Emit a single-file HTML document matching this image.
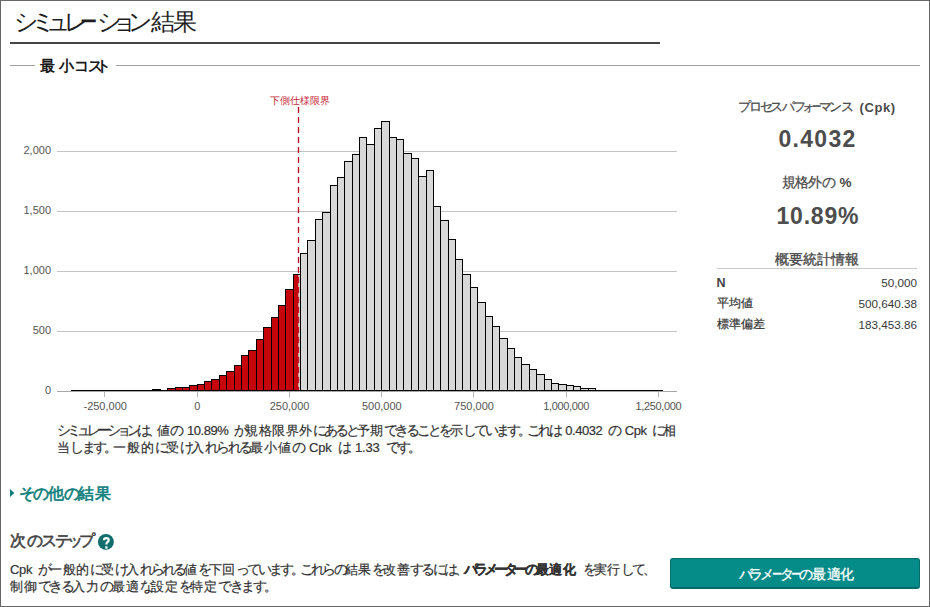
<!DOCTYPE html>
<html lang="ja">
<head>
<meta charset="utf-8">
<style>
html,body{margin:0;padding:0;}
body{width:930px;height:607px;position:relative;overflow:hidden;background:#fff;font-family:"Liberation Sans",sans-serif;color:#444;}
.frame{position:absolute;left:0;top:0;width:928px;height:605px;border:1px solid #666;}
.a{position:absolute;white-space:nowrap;line-height:1;}
.hr{position:absolute;}
</style>
</head>
<body>
<div class="frame"></div>
<!-- title -->
<div class="a" id="title" style="left:0;top:10px;font-size:24px;color:#1e1e1e;"><span style="position:absolute;left:14.48px">シ</span><span style="position:absolute;left:30.54px">ミ</span><span style="position:absolute;left:46.44px">ュ</span><span style="position:absolute;left:63.52px">レ</span><span style="position:absolute;left:80.44px;transform:scaleX(0.72);transform-origin:0 0">ー</span><span style="position:absolute;left:97.38px">シ</span><span style="position:absolute;left:112.36px">ョ</span><span style="position:absolute;left:127.50px">ン</span><span style="position:absolute;left:150.72px">結</span><span style="position:absolute;left:173.22px">果</span></div>
<div class="hr" style="left:10px;top:42px;width:650px;height:2px;background:#454545;"></div>
<!-- section -->
<div class="hr" style="left:10px;top:65px;width:25px;height:1px;background:#a0a0a0;"></div>
<div class="hr" style="left:116px;top:65px;width:804px;height:1px;background:#a0a0a0;"></div>
<div class="a" id="sect" style="left:0;top:57.5px;font-size:15px;font-weight:bold;color:#1a1a1a;"><span style="position:absolute;left:40.20px">最</span><span style="position:absolute;left:58.55px">小</span><span style="position:absolute;left:73.95px">コ</span><span style="position:absolute;left:88.38px">ス</span><span style="position:absolute;left:96.45px">ト</span></div>
<!-- chart -->
<svg width="930" height="607" style="position:absolute;left:0;top:0"><line x1="57" y1="151.5" x2="677" y2="151.5" stroke="#c4c4c4" stroke-width="1"/><line x1="57" y1="211.5" x2="677" y2="211.5" stroke="#c4c4c4" stroke-width="1"/><line x1="57" y1="271.5" x2="677" y2="271.5" stroke="#c4c4c4" stroke-width="1"/><line x1="57" y1="331.5" x2="677" y2="331.5" stroke="#c4c4c4" stroke-width="1"/><line x1="57" y1="391.5" x2="677" y2="391.5" stroke="#a8a8a8" stroke-width="1"/><line x1="104.5" y1="392" x2="104.5" y2="397" stroke="#b8b8b8" stroke-width="1"/><line x1="197.5" y1="392" x2="197.5" y2="397" stroke="#b8b8b8" stroke-width="1"/><line x1="289.5" y1="392" x2="289.5" y2="397" stroke="#b8b8b8" stroke-width="1"/><line x1="381.5" y1="392" x2="381.5" y2="397" stroke="#b8b8b8" stroke-width="1"/><line x1="473.5" y1="392" x2="473.5" y2="397" stroke="#b8b8b8" stroke-width="1"/><line x1="566.5" y1="392" x2="566.5" y2="397" stroke="#b8b8b8" stroke-width="1"/><line x1="658.5" y1="392" x2="658.5" y2="397" stroke="#b8b8b8" stroke-width="1"/><line x1="71" y1="390.5" x2="663" y2="390.5" stroke="#000" stroke-width="1"/><rect x="152.5" y="389.5" width="8" height="1" fill="#c5040c" stroke="#000" stroke-width="1"/><rect x="167.5" y="388.5" width="8" height="2" fill="#c5040c" stroke="#000" stroke-width="1"/><rect x="175.5" y="387.5" width="7" height="3" fill="#c5040c" stroke="#000" stroke-width="1"/><rect x="182.5" y="387.5" width="7" height="3" fill="#c5040c" stroke="#000" stroke-width="1"/><rect x="189.5" y="385.5" width="8" height="5" fill="#c5040c" stroke="#000" stroke-width="1"/><rect x="197.5" y="384.5" width="7" height="6" fill="#c5040c" stroke="#000" stroke-width="1"/><rect x="204.5" y="381.5" width="7" height="9" fill="#c5040c" stroke="#000" stroke-width="1"/><rect x="211.5" y="379.5" width="8" height="11" fill="#c5040c" stroke="#000" stroke-width="1"/><rect x="219.5" y="375.5" width="7" height="15" fill="#c5040c" stroke="#000" stroke-width="1"/><rect x="226.5" y="371.5" width="8" height="19" fill="#c5040c" stroke="#000" stroke-width="1"/><rect x="234.5" y="365.5" width="7" height="25" fill="#c5040c" stroke="#000" stroke-width="1"/><rect x="241.5" y="355.5" width="7" height="35" fill="#c5040c" stroke="#000" stroke-width="1"/><rect x="248.5" y="350.5" width="8" height="40" fill="#c5040c" stroke="#000" stroke-width="1"/><rect x="256.5" y="339.5" width="7" height="51" fill="#c5040c" stroke="#000" stroke-width="1"/><rect x="263.5" y="327.5" width="8" height="63" fill="#c5040c" stroke="#000" stroke-width="1"/><rect x="271.5" y="317.5" width="7" height="73" fill="#c5040c" stroke="#000" stroke-width="1"/><rect x="278.5" y="305.5" width="7" height="85" fill="#c5040c" stroke="#000" stroke-width="1"/><rect x="285.5" y="289.5" width="8" height="101" fill="#c5040c" stroke="#000" stroke-width="1"/><rect x="293.5" y="274.5" width="7" height="116" fill="#d8d8d8"/><rect x="293.5" y="274.5" width="4.80" height="116" fill="#c5040c"/><rect x="293.5" y="274.5" width="7" height="116" fill="none" stroke="#000" stroke-width="1"/><rect x="300.5" y="253.5" width="7" height="137" fill="#d8d8d8" stroke="#000" stroke-width="1"/><rect x="307.5" y="240.5" width="8" height="150" fill="#d8d8d8" stroke="#000" stroke-width="1"/><rect x="315.5" y="219.5" width="7" height="171" fill="#d8d8d8" stroke="#000" stroke-width="1"/><rect x="322.5" y="212.5" width="8" height="178" fill="#d8d8d8" stroke="#000" stroke-width="1"/><rect x="330.5" y="185.5" width="7" height="205" fill="#d8d8d8" stroke="#000" stroke-width="1"/><rect x="337.5" y="177.5" width="7" height="213" fill="#d8d8d8" stroke="#000" stroke-width="1"/><rect x="344.5" y="161.5" width="8" height="229" fill="#d8d8d8" stroke="#000" stroke-width="1"/><rect x="352.5" y="154.5" width="7" height="236" fill="#d8d8d8" stroke="#000" stroke-width="1"/><rect x="359.5" y="137.5" width="7" height="253" fill="#d8d8d8" stroke="#000" stroke-width="1"/><rect x="366.5" y="144.5" width="8" height="246" fill="#d8d8d8" stroke="#000" stroke-width="1"/><rect x="374.5" y="128.5" width="7" height="262" fill="#d8d8d8" stroke="#000" stroke-width="1"/><rect x="381.5" y="121.5" width="8" height="269" fill="#d8d8d8" stroke="#000" stroke-width="1"/><rect x="389.5" y="137.5" width="7" height="253" fill="#d8d8d8" stroke="#000" stroke-width="1"/><rect x="396.5" y="139.5" width="7" height="251" fill="#d8d8d8" stroke="#000" stroke-width="1"/><rect x="403.5" y="153.5" width="8" height="237" fill="#d8d8d8" stroke="#000" stroke-width="1"/><rect x="411.5" y="158.5" width="7" height="232" fill="#d8d8d8" stroke="#000" stroke-width="1"/><rect x="418.5" y="176.5" width="8" height="214" fill="#d8d8d8" stroke="#000" stroke-width="1"/><rect x="426.5" y="170.5" width="7" height="220" fill="#d8d8d8" stroke="#000" stroke-width="1"/><rect x="433.5" y="206.5" width="7" height="184" fill="#d8d8d8" stroke="#000" stroke-width="1"/><rect x="440.5" y="220.5" width="8" height="170" fill="#d8d8d8" stroke="#000" stroke-width="1"/><rect x="448.5" y="239.5" width="7" height="151" fill="#d8d8d8" stroke="#000" stroke-width="1"/><rect x="455.5" y="259.5" width="7" height="131" fill="#d8d8d8" stroke="#000" stroke-width="1"/><rect x="462.5" y="274.5" width="8" height="116" fill="#d8d8d8" stroke="#000" stroke-width="1"/><rect x="470.5" y="287.5" width="7" height="103" fill="#d8d8d8" stroke="#000" stroke-width="1"/><rect x="477.5" y="302.5" width="8" height="88" fill="#d8d8d8" stroke="#000" stroke-width="1"/><rect x="485.5" y="316.5" width="7" height="74" fill="#d8d8d8" stroke="#000" stroke-width="1"/><rect x="492.5" y="326.5" width="7" height="64" fill="#d8d8d8" stroke="#000" stroke-width="1"/><rect x="499.5" y="338.5" width="8" height="52" fill="#d8d8d8" stroke="#000" stroke-width="1"/><rect x="507.5" y="348.5" width="7" height="42" fill="#d8d8d8" stroke="#000" stroke-width="1"/><rect x="514.5" y="357.5" width="7" height="33" fill="#d8d8d8" stroke="#000" stroke-width="1"/><rect x="521.5" y="364.5" width="8" height="26" fill="#d8d8d8" stroke="#000" stroke-width="1"/><rect x="529.5" y="369.5" width="7" height="21" fill="#d8d8d8" stroke="#000" stroke-width="1"/><rect x="536.5" y="374.5" width="8" height="16" fill="#d8d8d8" stroke="#000" stroke-width="1"/><rect x="544.5" y="379.5" width="7" height="11" fill="#d8d8d8" stroke="#000" stroke-width="1"/><rect x="551.5" y="383.5" width="7" height="7" fill="#d8d8d8" stroke="#000" stroke-width="1"/><rect x="558.5" y="384.5" width="8" height="6" fill="#d8d8d8" stroke="#000" stroke-width="1"/><rect x="566.5" y="385.5" width="7" height="5" fill="#d8d8d8" stroke="#000" stroke-width="1"/><rect x="573.5" y="386.5" width="7" height="4" fill="#d8d8d8" stroke="#000" stroke-width="1"/><rect x="580.5" y="388.5" width="8" height="2" fill="#d8d8d8" stroke="#000" stroke-width="1"/><rect x="588.5" y="388.5" width="7" height="2" fill="#d8d8d8" stroke="#000" stroke-width="1"/><line x1="298.5" y1="107" x2="298.5" y2="390" stroke="#c0001a" stroke-width="1.3" stroke-dasharray="6 4"/></svg>
<div class="a" id="lsl" style="left:270px;top:96px;font-size:10px;color:#c8283a;">下側仕様限界</div>
<!-- y labels -->
<div class="a ylab" style="right:879px;top:145px;font-size:11px;color:#555;">2,000</div>
<div class="a ylab" style="right:879px;top:205px;font-size:11px;color:#555;">1,500</div>
<div class="a ylab" style="right:879px;top:265px;font-size:11px;color:#555;">1,000</div>
<div class="a ylab" style="right:879px;top:325px;font-size:11px;color:#555;">500</div>
<div class="a ylab" style="right:879px;top:385px;font-size:11px;color:#555;">0</div>
<!-- x labels -->
<div class="a xlab" style="left:105.2px;top:401px;font-size:11px;color:#555;transform:translateX(-50%);">-250,000</div>
<div class="a xlab" style="left:197.4px;top:401px;font-size:11px;color:#555;transform:translateX(-50%);">0</div>
<div class="a xlab" style="left:289.6px;top:401px;font-size:11px;color:#555;transform:translateX(-50%);">250,000</div>
<div class="a xlab" style="left:381.8px;top:401px;font-size:11px;color:#555;transform:translateX(-50%);">500,000</div>
<div class="a xlab" style="left:474px;top:401px;font-size:11px;color:#555;transform:translateX(-50%);">750,000</div>
<div class="a xlab" style="left:566.2px;top:401px;font-size:11px;color:#555;transform:translateX(-50%);letter-spacing:-0.35px;">1,000,000</div>
<div class="a xlab" style="left:658.4px;top:401px;font-size:11px;color:#555;transform:translateX(-50%);letter-spacing:-0.35px;">1,250,000</div>
<!-- description -->
<div class="a" id="d1" style="left:56.5px;top:423px;font-size:13px;color:#333;word-spacing:2.5px;-webkit-text-stroke:0.2px #333;"><span style="font-size:14.0px;letter-spacing:-3.94px">シミュレーション</span><span style="font-size:14.0px;letter-spacing:-3.04px">は</span><span style="letter-spacing:-4.24px">、</span><span style="letter-spacing:0.56px">値</span><span style="font-size:14.0px;letter-spacing:-3.04px">の</span><span style="letter-spacing:-0.44px"> 10.89% </span><span style="font-size:14.0px;letter-spacing:-3.04px">が</span><span style="letter-spacing:0.56px">規格限界外</span><span style="font-size:14.0px;letter-spacing:-3.04px">にあると</span><span style="letter-spacing:0.56px">予期</span><span style="font-size:14.0px;letter-spacing:-3.04px">できることを</span><span style="letter-spacing:0.56px">示</span><span style="font-size:14.0px;letter-spacing:-3.04px">しています</span><span style="letter-spacing:-4.24px">。</span><span style="font-size:14.0px;letter-spacing:-3.04px">これは</span><span style="letter-spacing:-0.44px"> 0.4032 </span><span style="font-size:14.0px;letter-spacing:-3.04px">の</span><span style="letter-spacing:-0.44px"> Cpk </span><span style="font-size:14.0px;letter-spacing:-3.04px">に</span><span style="letter-spacing:0.56px">相</span></div>
<div class="a" id="d2" style="left:56.5px;top:440px;font-size:13px;color:#333;word-spacing:2.5px;-webkit-text-stroke:0.2px #333;"><span style="letter-spacing:0.86px">当</span><span style="font-size:14.0px;letter-spacing:-2.74px">します</span><span style="letter-spacing:-3.94px">。</span><span style="letter-spacing:0.86px">一般的</span><span style="font-size:14.0px;letter-spacing:-2.74px">に</span><span style="letter-spacing:0.86px">受</span><span style="font-size:14.0px;letter-spacing:-2.74px">け</span><span style="letter-spacing:0.86px">入</span><span style="font-size:14.0px;letter-spacing:-2.74px">れられる</span><span style="letter-spacing:0.86px">最小値</span><span style="font-size:14.0px;letter-spacing:-2.74px">の</span><span style="letter-spacing:-0.14px"> Cpk </span><span style="font-size:14.0px;letter-spacing:-2.74px">は</span><span style="letter-spacing:-0.14px"> 1.33 </span><span style="font-size:14.0px;letter-spacing:-2.74px">です</span><span style="letter-spacing:-3.94px">。</span></div>
<!-- right panel -->
<div class="a" id="r1a" style="left:0;top:100px;font-size:13px;color:#4a4a4a;-webkit-text-stroke:0.25px #4a4a4a;"><span style="position:absolute;left:738.43px">プ</span><span style="position:absolute;left:749.43px">ロ</span><span style="position:absolute;left:760.22px">セ</span><span style="position:absolute;left:770.12px">ス</span><span style="position:absolute;left:781.60px">パ</span><span style="position:absolute;left:793.03px">フ</span><span style="position:absolute;left:802.42px">ォ</span><span style="position:absolute;left:811.66px;transform:scaleX(0.72);transform-origin:0 0">ー</span><span style="position:absolute;left:819.23px">マ</span><span style="position:absolute;left:829.17px">ン</span><span style="position:absolute;left:841.42px">ス</span></div>
<div class="a" id="r1b" style="left:859.5px;top:101px;font-size:13px;font-weight:bold;color:#4a4a4a;letter-spacing:0.6px;">(Cpk)</div>
<div class="a" id="r2" style="left:778.5px;top:128px;font-size:23px;font-weight:bold;color:#4d4d4d;letter-spacing:1.3px;">0.4032</div>
<div class="a" id="r3a" style="left:782px;top:175.5px;font-size:13.5px;color:#4a4a4a;-webkit-text-stroke:0.25px #4a4a4a;letter-spacing:-0.8px;">規格外の</div>
<div class="a" id="r3b" style="left:839.5px;top:176px;font-size:13.5px;font-weight:bold;color:#4a4a4a;">%</div>
<div class="a" id="r4" style="left:776.5px;top:205px;font-size:23px;font-weight:bold;color:#4d4d4d;letter-spacing:0.8px;">10.89%</div>
<div class="a" id="r5" style="left:775px;top:252px;font-size:14px;color:#4a4a4a;-webkit-text-stroke:0.35px #4a4a4a;">概要統計情報</div>
<div class="hr" style="left:717px;top:268px;width:200px;height:1px;background:#c8c8c8;"></div>
<div class="a" id="sN" style="left:716.5px;top:277px;font-size:12.5px;font-weight:bold;color:#444;">N</div>
<div class="a" id="sNv" style="right:13px;top:277px;font-size:11.7px;color:#383838;">50,000</div>
<div class="a" id="sM" style="left:717px;top:297px;font-size:12px;color:#333;-webkit-text-stroke:0.2px #333;">平均値</div>
<div class="a" id="sMv" style="right:13px;top:297.5px;font-size:11.7px;color:#383838;">500,640.38</div>
<div class="a" id="sS" style="left:717px;top:318px;font-size:12px;color:#333;-webkit-text-stroke:0.2px #333;">標準偏差</div>
<div class="a" id="sSv" style="right:13px;top:318.5px;font-size:11.7px;color:#383838;">183,453.86</div>
<!-- more results -->
<svg class="hr" style="left:10px;top:488.8px" width="5" height="9"><path d="M0 0 L4.3 4 L0 8 Z" fill="#0e7c7a"/></svg>
<div class="a" id="more" style="left:0;top:486px;font-size:16px;color:#0f7f7c;-webkit-text-stroke:0.65px #0f7f7c;"><span style="position:absolute;left:19.22px">そ</span><span style="position:absolute;left:33.36px">の</span><span style="position:absolute;left:47.70px">他</span><span style="position:absolute;left:63.76px">の</span><span style="position:absolute;left:78.08px">結</span><span style="position:absolute;left:94.98px">果</span></div>
<!-- next steps -->
<div class="a" id="next" style="left:0;top:533px;font-size:16px;color:#444;-webkit-text-stroke:0.6px #444;"><span style="position:absolute;left:9.96px">次</span><span style="position:absolute;left:26.66px">の</span><span style="position:absolute;left:40.90px">ス</span><span style="position:absolute;left:54.58px">テ</span><span style="position:absolute;left:66.74px">ッ</span><span style="position:absolute;left:78.96px">プ</span></div>
<svg class="hr" style="left:94px;top:530px" width="24" height="24"><circle cx="11.9" cy="11.9" r="7.95" fill="#116e6c"/><path d="M10 10.2 C10 8.8 11 8.1 12.4 8.1 C13.8 8.1 14.7 9 14.7 10.2 C14.7 11.4 13.8 11.9 13.1 12.4 C12.5 12.9 12.4 13.3 12.4 14.6" fill="none" stroke="#fff" stroke-width="2.2"/><rect x="11.25" y="16.3" width="2.3" height="2.3" fill="#fff"/></svg>
<div class="a" id="b1" style="left:10px;top:562px;font-size:13px;color:#333;word-spacing:2.5px;-webkit-text-stroke:0.2px #333;"><span style="letter-spacing:-0.325px">Cpk </span><span style="font-size:14.0px;letter-spacing:-2.925px">が</span><span style="letter-spacing:0.675px">一般的</span><span style="font-size:14.0px;letter-spacing:-2.925px">に</span><span style="letter-spacing:0.675px">受</span><span style="font-size:14.0px;letter-spacing:-2.925px">け</span><span style="letter-spacing:0.675px">入</span><span style="font-size:14.0px;letter-spacing:-2.925px">れられる</span><span style="letter-spacing:0.675px">値</span><span style="font-size:14.0px;letter-spacing:-2.925px">を</span><span style="letter-spacing:0.675px">下回</span><span style="font-size:14.0px;letter-spacing:-2.925px">っています</span><span style="letter-spacing:-4.125px">。</span><span style="font-size:14.0px;letter-spacing:-2.925px">これらの</span><span style="letter-spacing:0.675px">結果</span><span style="font-size:14.0px;letter-spacing:-2.925px">を</span><span style="letter-spacing:0.675px">改善</span><span style="font-size:14.0px;letter-spacing:-2.925px">するには</span><span style="letter-spacing:-4.125px">、</span><b><span style="font-size:14.0px;letter-spacing:-3.825px">パラメーター</span><span style="font-size:14.0px;letter-spacing:-2.925px">の</span><span style="letter-spacing:0.675px">最適化</span></b><span style="letter-spacing:-0.325px"> </span><span style="font-size:14.0px;letter-spacing:-2.925px">を</span><span style="letter-spacing:0.675px">実行</span><span style="font-size:14.0px;letter-spacing:-2.925px">して</span><span style="letter-spacing:-4.125px">、</span></div>
<div class="a" id="b2" style="left:10px;top:579px;font-size:13px;color:#333;-webkit-text-stroke:0.2px #333;"><span style="letter-spacing:1.0px">制御</span><span style="font-size:14.0px;letter-spacing:-2.6px">できる</span><span style="letter-spacing:1.0px">入力</span><span style="font-size:14.0px;letter-spacing:-2.6px">の</span><span style="letter-spacing:1.0px">最適</span><span style="font-size:14.0px;letter-spacing:-2.6px">な</span><span style="letter-spacing:1.0px">設定</span><span style="font-size:14.0px;letter-spacing:-2.6px">を</span><span style="letter-spacing:1.0px">特定</span><span style="font-size:14.0px;letter-spacing:-2.6px">できます</span><span style="letter-spacing:-3.8px">。</span></div>
<!-- button -->
<div class="hr" style="left:670px;top:558px;width:248px;height:28px;border:1px solid #006b69;border-bottom-width:2px;border-radius:3px;background:#058c89;"></div>
<div class="a" id="btn" style="left:0;top:567px;font-size:14px;color:#fff;-webkit-text-stroke:0.3px #fff;"><span style="position:absolute;left:739.10px">パ</span><span style="position:absolute;left:749.46px">ラ</span><span style="position:absolute;left:760.17px">メ</span><span style="position:absolute;left:771.69px;transform:scaleX(0.72);transform-origin:0 0">ー</span><span style="position:absolute;left:780.02px">タ</span><span style="position:absolute;left:791.29px;transform:scaleX(0.72);transform-origin:0 0">ー</span><span style="position:absolute;left:798.64px">の</span><span style="position:absolute;left:812.22px">最</span><span style="position:absolute;left:827.38px">適</span><span style="position:absolute;left:840.19px">化</span></div>
</body>
</html>
